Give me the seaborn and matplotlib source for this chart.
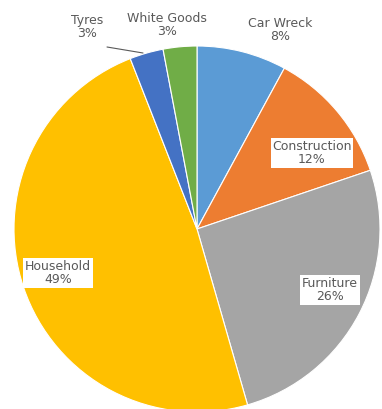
import seaborn as sns
import matplotlib.pyplot as plt
import numpy as np

# Waste categories and their share (%)
categories = ['Car Wreck', 'Construction', 'Furniture', 'Household', 'Tyres', 'White Goods']
shares = [8, 12, 26, 49, 3, 3]
colors = ['#5B9BD5', '#ED7D31', '#A5A5A5', '#FFC000', '#4472C4', '#70AD47']

sns.set_theme(style='white')
plt.rcParams['font.family'] = ['DejaVu Sans']

W, H = 382, 409
cx, cy, R = 197, 229, 183  # pie centre / radius in pixels

fig = plt.figure(figsize=(W / 100, H / 100), dpi=100)
ax = fig.add_axes([0, 0, 1, 1])

wedges, _ = ax.pie(shares, colors=colors, startangle=90, counterclock=False,
                   wedgeprops=dict(edgecolor='white', linewidth=0.8))

ax.set_xlim(-cx / R, (W - cx) / R)
ax.set_ylim(-(H - cy) / R, cy / R)
ax.set_aspect('equal')
ax.axis('off')


def px(x, y):
    return (x - cx) / R, (cy - y) / R


# label anchor points (pixels) and whether they sit on a white box
label_pos = [(280, 30), (312, 153), (330, 290), (58, 273), (87, 27), (167, 25)]
boxed = [False, True, True, True, False, False]

for cat, val, (lx, ly), b in zip(categories, shares, label_pos, boxed):
    x, y = px(lx, ly)
    bbox = dict(facecolor='white', edgecolor='none', pad=1.2) if b else None
    ax.text(x, y, f'{cat}\n{val}%', ha='center', va='center', fontsize=9,
            color='#595959', linespacing=1.05, bbox=bbox)

# leader line for Tyres
x0, y0 = px(107, 47)
x1, y1 = px(143, 53)
ax.plot([x0, x1], [y0, y1], color='#595959', linewidth=0.8)

plt.savefig('out.png', dpi=100)
